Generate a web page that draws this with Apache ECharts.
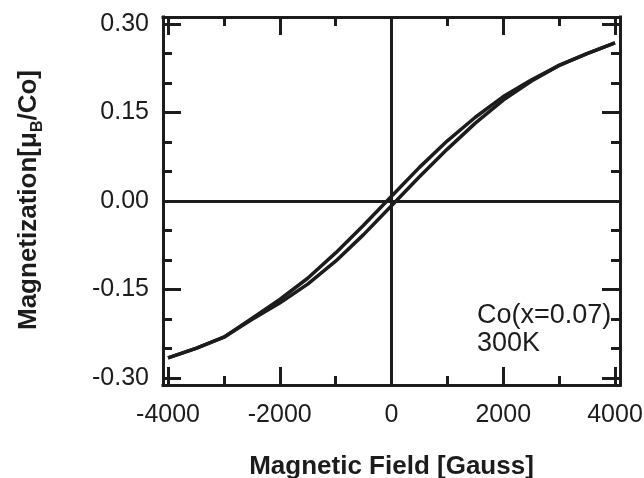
<!DOCTYPE html>
<html>
<head>
<meta charset="utf-8">
<script src="https://cdn.jsdelivr.net/npm/echarts@6/dist/echarts.min.js"></script>
<style>
  html, body { margin: 0; padding: 0; background: #fff; }
  #main { width: 644px; height: 478px; }
</style>
</head>
<body>
<div id="main"></div>
<script>
// field sweep down (from +4000) and back up (from -4000)
var fieldDown = [4000, 3500, 3000, 2500, 2000, 1500, 1000, 500, 0, -500, -1000, -1500, -2000, -2500, -3000, -3500, -4000];
var momentDown = [0.268, 0.250, 0.230, 0.205, 0.177, 0.142, 0.102, 0.057, 0.008, -0.041, -0.088, -0.131, -0.167, -0.199, -0.231, -0.250, -0.266];
var fieldUp = [-4000, -3500, -3000, -2500, -2000, -1500, -1000, -500, 0, 500, 1000, 1500, 2000, 2500, 3000, 3500, 4000];
var momentUp = [-0.266, -0.250, -0.231, -0.201, -0.173, -0.141, -0.102, -0.057, -0.008, 0.041, 0.088, 0.132, 0.171, 0.203, 0.230, 0.250, 0.268];

// ticks
var xMajorTicks = [-4000, -2000, 0, 2000, 4000];
var xMinorTicks = [-4000, -3000, -2000, -1000, 0, 1000, 2000, 3000, 4000];
var yMajorTicks = [-0.30, -0.15, 0, 0.15, 0.30];
var yMinorTicks = [-0.30, -0.25, -0.20, -0.15, -0.10, -0.05, 0, 0.05, 0.10, 0.15, 0.20, 0.25, 0.30];

var ink = '#1c1c1c';
var font = 'Liberation Sans, Arial, Helvetica, sans-serif';

function pairs(xs, ys) {
  return xs.map(function (x, i) { return [x, ys[i]]; });
}

function makeAxis(dir, pos, ticks, len, withLine, withLabels) {
  var ax = {
    type: 'value',
    position: pos,
    min: dir === 'x' ? -4090 : -0.312,
    max: dir === 'x' ? 4090 : 0.312,
    splitLine: { show: false },
    axisLine: { show: withLine, onZero: false, lineStyle: { color: ink, width: 3, cap: 'square' } },
    axisTick: { show: true, inside: true, length: len, customValues: ticks, lineStyle: { color: ink, width: 3 } },
    axisLabel: { show: false }
  };
  if (withLabels) {
    ax.axisLabel = {
      show: true,
      customValues: ticks,
      color: ink,
      fontFamily: font,
      fontSize: 25,
      margin: dir === 'x' ? 18 : 14,
      formatter: dir === 'x' ? function (v) { return String(Math.round(v)); } : function (v) { return v.toFixed(2); }
    };
  }
  if (dir === 'x' && withLabels) {
    ax.name = 'Magnetic Field [Gauss]';
    ax.nameLocation = 'middle';
    ax.nameGap = 69;
    ax.nameTextStyle = { color: ink, fontFamily: font, fontSize: 26, fontWeight: 'bold' };
  }
  return ax;
}

var myChart = echarts.init(document.getElementById('main'));

var option = {
  animation: false,
  backgroundColor: '#fff',
  grid: { left: 163, right: 24, top: 17, bottom: 93, containLabel: false, outerBoundsMode: 'none' },
  xAxis: [
    makeAxis('x', 'bottom', xMajorTicks, 18, true, true),
    makeAxis('x', 'bottom', xMinorTicks, 9, false, false),
    makeAxis('x', 'top', xMajorTicks, 18, true, false),
    makeAxis('x', 'top', xMinorTicks, 9, false, false)
  ],
  yAxis: [
    makeAxis('y', 'left', yMajorTicks, 18, true, true),
    makeAxis('y', 'left', yMinorTicks, 9, false, false),
    makeAxis('y', 'right', yMajorTicks, 18, true, false),
    makeAxis('y', 'right', yMinorTicks, 9, false, false)
  ],
  graphic: [
    {
      type: 'text',
      x: 29, y: 200,
      rotation: Math.PI / 2,
      style: {
        text: '{n|Magnetization[μ}{s|B}{n|/Co]}',
        align: 'center',
        verticalAlign: 'middle',
        fill: ink,
        rich: {
          n: { fontFamily: font, fontSize: 26, fontWeight: 'bold', lineHeight: 34, verticalAlign: 'middle' },
          s: { fontFamily: font, fontSize: 16, fontWeight: 'bold', lineHeight: 34, verticalAlign: 'bottom' }
        }
      }
    },
    {
      type: 'text',
      left: 477, top: 302,
      style: {
        text: 'Co(x=0.07)\n300K',
        fill: ink,
        fontFamily: font,
        fontSize: 27,
        lineHeight: 28
      }
    }
  ],
  series: [
    {
      name: 'down',
      type: 'line',
      xAxisIndex: 0, yAxisIndex: 0,
      data: pairs(fieldDown, momentDown),
      showSymbol: false,
      lineStyle: { color: ink, width: 3.5 },
      markLine: {
        silent: true,
        symbol: ['none', 'none'],
        label: { show: false },
        lineStyle: { color: ink, width: 3, type: 'solid' },
        data: [{ xAxis: 0 }, { yAxis: 0 }]
      }
    },
    {
      name: 'up',
      type: 'line',
      xAxisIndex: 0, yAxisIndex: 0,
      data: pairs(fieldUp, momentUp),
      showSymbol: false,
      lineStyle: { color: ink, width: 3.5 }
    }
  ]
};

myChart.setOption(option);
</script>
</body>
</html>
